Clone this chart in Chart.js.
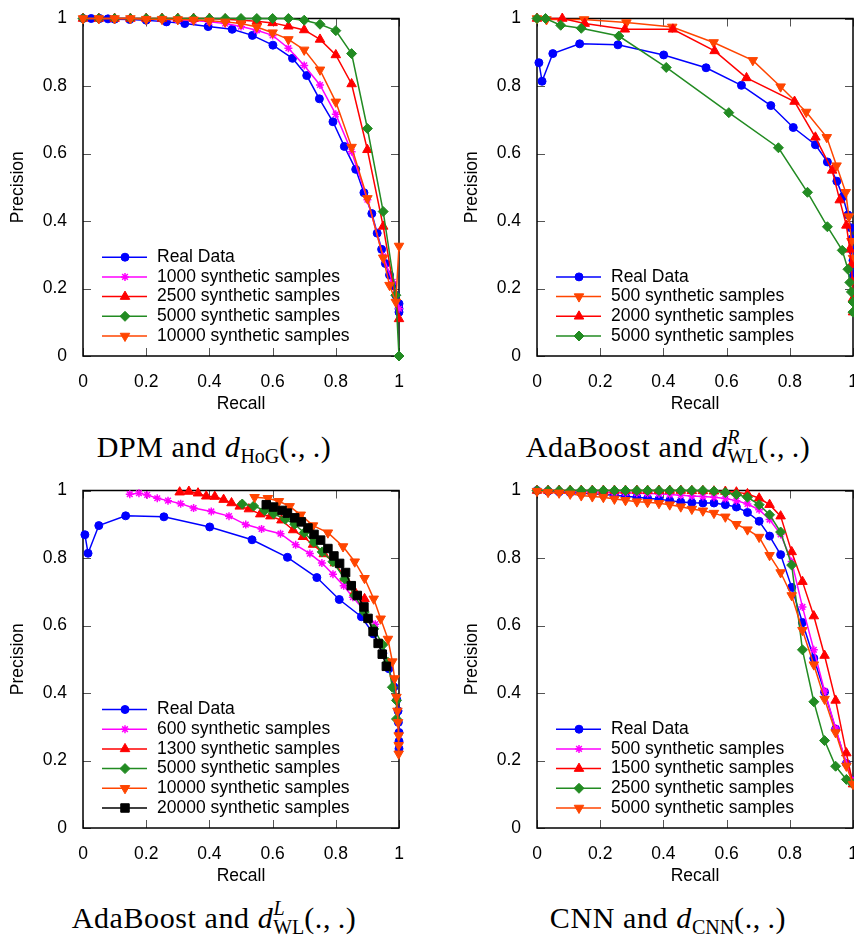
<!DOCTYPE html>
<html>
<head>
<meta charset="utf-8">
<script src="https://cdn.jsdelivr.net/npm/chart.js@4.4.0/dist/chart.umd.min.js"></script>
<style>
  body { margin: 0; width: 854px; height: 940px; overflow: hidden; background: #fff; position: relative; }
  canvas { position: absolute; display: block; }
  .cap { position: absolute; width: 428px; text-align: center; font-family: "Liberation Serif", serif;
         font-size: 30px; line-height: 34px; letter-spacing: 0.6px; white-space: nowrap; color: #000; }
  .sb { font-size: 20px; position: relative; top: 6px; letter-spacing: 0; }
  .sp { font-size: 20px; position: relative; top: -13px; }
</style>
</head>
<body>
<canvas id="dpm" width="420" height="420" style="left:0;top:0"></canvas>
<canvas id="adaR" width="420" height="420" style="left:454px;top:0"></canvas>
<canvas id="adaL" width="420" height="420" style="left:0;top:472px"></canvas>
<canvas id="cnn" width="420" height="420" style="left:454px;top:472px"></canvas>

<div class="cap" style="left:0;top:430px">DPM and <i>d</i><span class="sb">HoG</span>(.,&thinsp;.)</div>
<div class="cap" style="left:454px;top:430px">AdaBoost and <i>d</i><span class="sp"><i>R</i></span><span class="sb" style="margin-left:-13px">WL</span>(.,&thinsp;.)</div>
<div class="cap" style="left:0;top:901px">AdaBoost and <i>d</i><span class="sp"><i>L</i></span><span class="sb" style="margin-left:-12px">WL</span>(.,&thinsp;.)</div>
<div class="cap" style="left:454px;top:901px">CNN and <i>d</i><span class="sb">CNN</span>(.,&thinsp;.)</div>

<script>
// ---- data: [recall, precision] pairs ----
// DPM + d_HoG
const dpmReal = [[0,1],[0.026,1],[0.053,1],[0.079,0.999],[0.1,0.998],[0.148,0.997],[0.2,0.995],[0.264,0.99],[0.322,0.985],[0.396,0.976],[0.472,0.968],[0.536,0.95],[0.601,0.921],[0.663,0.882],[0.708,0.831],[0.748,0.762],[0.791,0.694],[0.827,0.621],[0.863,0.553],[0.889,0.484],[0.914,0.422],[0.931,0.364],[0.945,0.316],[0.957,0.274],[0.97,0.24],[0.98,0.21],[0.99,0.18],[1,0.155],[1,0.14],[1,0.13]];
const dpm1000 = [[0,1],[0.05,1],[0.1,1],[0.15,1],[0.2,0.999],[0.25,0.998],[0.3,0.996],[0.35,0.994],[0.4,0.99],[0.45,0.985],[0.5,0.976],[0.55,0.965],[0.6,0.95],[0.65,0.912],[0.7,0.861],[0.75,0.803],[0.8,0.716],[0.85,0.605],[0.9,0.463],[0.95,0.295],[0.98,0.22],[1,0.14]];
const dpm2500 = [[0,1],[0.05,1],[0.1,1],[0.15,1],[0.2,1],[0.25,1],[0.3,1],[0.35,1],[0.4,1],[0.45,0.998],[0.5,0.995],[0.55,0.992],[0.6,0.987],[0.65,0.977],[0.7,0.966],[0.75,0.938],[0.8,0.892],[0.85,0.806],[0.9,0.611],[0.95,0.384],[1,0.11]];
const dpm5000 = [[0,1],[0.05,1],[0.1,1],[0.15,1],[0.2,1],[0.25,1],[0.3,1],[0.35,1],[0.4,1],[0.45,1],[0.5,1],[0.55,1],[0.6,1],[0.65,1],[0.7,0.995],[0.75,0.983],[0.8,0.964],[0.85,0.896],[0.9,0.674],[0.95,0.428],[0.99,0.18],[1,0]];
const dpm10000 = [[0,1],[0.05,1],[0.1,1],[0.15,1],[0.2,0.998],[0.25,0.998],[0.3,0.997],[0.35,0.996],[0.4,0.993],[0.45,0.99],[0.5,0.985],[0.55,0.975],[0.6,0.958],[0.65,0.938],[0.7,0.907],[0.75,0.848],[0.8,0.753],[0.85,0.619],[0.9,0.467],[0.95,0.291],[0.97,0.21],[0.99,0.16],[1,0.326]];

// AdaBoost, real data (same detector in both AdaBoost panels)
const adaReal = [[0.006,0.869],[0.016,0.814],[0.05,0.896],[0.135,0.925],[0.256,0.922],[0.401,0.892],[0.535,0.854],[0.647,0.802],[0.74,0.742],[0.811,0.677],[0.881,0.626],[0.919,0.575],[0.949,0.518],[0.968,0.472],[0.984,0.418],[0.993,0.38],[0.997,0.347],[0.998,0.313],[1,0.283],[1,0.257],[1,0.235]];
// AdaBoost + d^R_WL
const adaR500 = [[0,1],[0.03,0.997],[0.149,0.997],[0.283,0.988],[0.428,0.975],[0.559,0.929],[0.683,0.876],[0.771,0.798],[0.852,0.723],[0.917,0.648],[0.948,0.564],[0.977,0.485],[0.987,0.413],[0.995,0.34],[1,0.29]];
const adaR2000 = [[0,1],[0.08,1],[0.151,0.985],[0.278,0.968],[0.43,0.968],[0.562,0.904],[0.663,0.824],[0.815,0.754],[0.881,0.648],[0.934,0.55],[0.958,0.462],[0.979,0.387],[0.99,0.316],[0.995,0.27],[0.998,0.22],[1,0.17],[1,0.13]];
const adaR5000 = [[0,1],[0.027,1],[0.075,0.98],[0.14,0.971],[0.259,0.948],[0.409,0.855],[0.607,0.721],[0.764,0.617],[0.856,0.485],[0.919,0.383],[0.966,0.313],[0.984,0.257],[0.99,0.218],[0.995,0.19],[1,0.16],[1,0.13]];
// AdaBoost + d^L_WL
const adaL600 = [[0.148,0.989],[0.177,0.992],[0.203,0.987],[0.235,0.977],[0.269,0.97],[0.309,0.961],[0.35,0.948],[0.406,0.938],[0.462,0.924],[0.515,0.899],[0.565,0.886],[0.625,0.872],[0.673,0.839],[0.718,0.813],[0.756,0.785],[0.791,0.752],[0.825,0.718],[0.854,0.684],[0.89,0.645],[0.925,0.604]];
const adaL1300 = [[0.306,0.995],[0.335,0.997],[0.364,0.992],[0.39,0.983],[0.417,0.982],[0.445,0.973],[0.47,0.963],[0.496,0.953],[0.525,0.945],[0.561,0.93],[0.593,0.924],[0.628,0.912],[0.665,0.883],[0.696,0.863],[0.728,0.84],[0.762,0.812],[0.797,0.785],[0.83,0.74],[0.86,0.7],[0.891,0.679]];
const adaL5000 = [[0.504,0.96],[0.54,0.954],[0.575,0.941],[0.603,0.931],[0.64,0.915],[0.67,0.9],[0.7,0.875],[0.73,0.847],[0.757,0.818],[0.791,0.789],[0.828,0.738],[0.86,0.689],[0.89,0.64],[0.92,0.59],[0.949,0.543],[0.965,0.491],[0.979,0.417],[0.992,0.378],[0.992,0.323]];
const adaL10000 = [[0.543,0.98],[0.585,0.977],[0.62,0.968],[0.654,0.953],[0.689,0.928],[0.728,0.896],[0.775,0.875],[0.823,0.834],[0.86,0.789],[0.891,0.74],[0.92,0.679],[0.942,0.62],[0.965,0.56],[0.979,0.493],[0.986,0.443],[0.992,0.388],[0.995,0.347],[0.997,0.313],[0.999,0.274],[0.999,0.245],[0.999,0.22]];
const adaL20000 = [[0.58,0.958],[0.603,0.951],[0.63,0.941],[0.647,0.933],[0.67,0.919],[0.691,0.907],[0.712,0.889],[0.731,0.87],[0.752,0.853],[0.775,0.828],[0.794,0.806],[0.812,0.784],[0.831,0.757],[0.849,0.718],[0.868,0.689],[0.889,0.655],[0.902,0.621],[0.918,0.582],[0.934,0.547],[0.947,0.515],[0.96,0.479]];

// CNN + d_CNN: all curves share the recall samples
const cnnRecall = [0,0.035,0.07,0.105,0.14,0.175,0.21,0.245,0.28,0.316,0.35,0.386,0.42,0.455,0.49,0.525,0.56,0.596,0.631,0.666,0.703,0.736,0.771,0.806,0.84,0.876,0.91,0.945,0.979,1];
const cnnReal = [1,0.998,0.996,0.994,0.992,0.99,0.988,0.986,0.983,0.98,0.977,0.974,0.97,0.966,0.964,0.963,0.963,0.958,0.951,0.935,0.909,0.865,0.81,0.713,0.609,0.503,0.403,0.293,0.191,0.14];
const cnn500 = [1,1,0.999,0.998,0.997,0.996,0.995,0.994,0.993,0.992,0.991,0.99,0.988,0.986,0.984,0.982,0.98,0.976,0.97,0.96,0.943,0.914,0.87,0.79,0.655,0.528,0.406,0.296,0.191,0.14];
const cnn1500 = [1,1,1,1,1,1,1,1,1,1,1,1,1,1,0.999,0.999,0.998,0.997,0.995,0.99,0.977,0.958,0.924,0.818,0.73,0.628,0.511,0.378,0.222,0.13];
const cnn2500 = [1,1,1,1,1,1,1,1,1,1,1,1,1,1,1,1,0.998,0.994,0.988,0.98,0.958,0.928,0.877,0.779,0.528,0.374,0.259,0.183,0.144,0.13];
const cnn5000 = [0.998,0.995,0.993,0.99,0.985,0.982,0.98,0.975,0.971,0.967,0.965,0.962,0.958,0.952,0.945,0.94,0.933,0.922,0.9,0.884,0.862,0.808,0.757,0.689,0.586,0.484,0.382,0.283,0.184,0.13];

const axisTicks = [0, 0.2, 0.4, 0.6, 0.8, 1];

// ---- styles (gnuplot-like markers) ----
const styles = {
  blue:    { color: '#0000ff', shape: 'circle',   rot: 0,   r: 4 },
  magenta: { color: '#ff00ff', shape: 'star',     rot: 0,   r: 4 },
  red:     { color: '#ff0000', shape: 'triangle', rot: 0,   r: 5.5 },
  green:   { color: '#228b22', shape: 'rectRot',  rot: 0,   r: 5 },
  orange:  { color: '#ff4500', shape: 'triangle', rot: 180, r: 5.5 },
  black:   { color: '#000000', shape: 'rect',     rot: 0,   r: 6 }
};

const FONT = '"Liberation Sans", Arial, sans-serif';
Chart.defaults.font.family = FONT;
Chart.defaults.font.size = 17.5;
Chart.defaults.color = '#000';

// box border + inward ticks on all four sides
const boxTicks = {
  id: 'boxTicks',
  beforeDatasetsDraw(chart) {
    const { ctx, chartArea: a, scales: { x, y } } = chart;
    ctx.save();
    ctx.strokeStyle = '#555';
    ctx.lineWidth = 1;
    ctx.beginPath();
    x.ticks.forEach(t => {
      const px = Math.round(x.getPixelForValue(t.value)) + 0.5;
      ctx.moveTo(px, a.bottom); ctx.lineTo(px, a.bottom - 8);
      ctx.moveTo(px, a.top); ctx.lineTo(px, a.top + 8);
    });
    y.ticks.forEach(t => {
      const py = Math.round(y.getPixelForValue(t.value)) + 0.5;
      ctx.moveTo(a.left, py); ctx.lineTo(a.left + 8, py);
      ctx.moveTo(a.right, py); ctx.lineTo(a.right - 8, py);
    });
    ctx.stroke();
    ctx.strokeStyle = '#000';
    ctx.lineWidth = 1.5;
    ctx.strokeRect(a.left, a.top, a.right - a.left, a.bottom - a.top);
    ctx.restore();
  }
};

// key drawn inside the plot, bottom left, line + marker sample
const insideKey = {
  id: 'insideKey',
  afterDatasetsDraw(chart) {
    const { ctx, chartArea: a } = chart;
    const sets = chart.data.datasets;
    ctx.save();
    ctx.font = '17.5px ' + FONT;
    ctx.textBaseline = 'middle';
    sets.forEach((ds, i) => {
      const yy = a.bottom - 20 - (sets.length - 1 - i) * 19.7;
      ctx.strokeStyle = ds.borderColor;
      ctx.lineWidth = ds.borderWidth;
      ctx.beginPath();
      ctx.moveTo(a.left + 19, yy); ctx.lineTo(a.left + 64, yy);
      ctx.stroke();
      ctx.fillStyle = ds.pointBackgroundColor;
      ctx.strokeStyle = ds.pointBorderColor;
      ctx.lineWidth = ds.pointBorderWidth;
      Chart.helpers.drawPoint(ctx, {
        pointStyle: ds.pointStyle, rotation: ds.pointRotation,
        radius: ds.pointRadius, borderWidth: ds.pointBorderWidth
      }, a.left + 42, yy);
      ctx.fillStyle = '#000';
      ctx.fillText(ds.label, a.left + 74, yy);
    });
    ctx.restore();
  }
};

function series(label, pts, key, n, i) {
  const s = styles[key];
  return {
    label,
    data: pts.map(p => ({ x: p[0], y: p[1] })),
    showLine: true,
    borderColor: s.color,
    backgroundColor: s.color,
    pointBackgroundColor: s.color,
    pointBorderColor: s.color,
    pointStyle: s.shape,
    pointRotation: s.rot,
    pointRadius: s.r,
    pointHoverRadius: s.r,
    pointBorderWidth: s.shape === 'star' ? 1.5 : 1,
    borderWidth: 1.5,
    tension: 0,
    clip: false,
    order: n - i
  };
}

const tickText = v => String(Math.round(v * 10) / 10);

function makeChart(id, list) {
  const datasets = list.map((d, i) => series(d[0], d[1], d[2], list.length, i));
  return new Chart(document.getElementById(id), {
    type: 'scatter',
    data: { datasets },
    options: {
      responsive: false,
      animation: false,
      devicePixelRatio: 1,
      events: [],
      layout: { padding: { left: 0, right: 21, top: 15, bottom: 0 } },
      plugins: { legend: { display: false }, tooltip: { enabled: false } },
      scales: {
        x: {
          type: 'linear', min: 0, max: 1,
          afterBuildTicks: sc => { sc.ticks = axisTicks.map(v => ({ value: v })); },
          ticks: { padding: 8, maxRotation: 0, autoSkip: false, callback: tickText },
          grid: { display: false }, border: { display: false },
          title: { display: true, text: 'Recall', padding: { top: 0, bottom: 5 } },
          afterFit: sc => { sc.height = 64; }
        },
        y: {
          type: 'linear', min: 0, max: 1,
          afterBuildTicks: sc => { sc.ticks = axisTicks.map(v => ({ value: v })); },
          ticks: { padding: 8, autoSkip: false, callback: tickText },
          grid: { display: false }, border: { display: false },
          title: { display: true, text: 'Precision', padding: { top: 8, bottom: 0 } },
          afterFit: sc => { sc.width = 83; }
        }
      }
    },
    plugins: [boxTicks, insideKey]
  });
}

makeChart('dpm', [
  ['Real Data', dpmReal, 'blue'],
  ['1000 synthetic samples', dpm1000, 'magenta'],
  ['2500 synthetic samples', dpm2500, 'red'],
  ['5000 synthetic samples', dpm5000, 'green'],
  ['10000 synthetic samples', dpm10000, 'orange']
]);

makeChart('adaR', [
  ['Real Data', adaReal, 'blue'],
  ['500 synthetic samples', adaR500, 'orange'],
  ['2000 synthetic samples', adaR2000, 'red'],
  ['5000 synthetic samples', adaR5000, 'green']
]);

makeChart('adaL', [
  ['Real Data', adaReal, 'blue'],
  ['600 synthetic samples', adaL600, 'magenta'],
  ['1300 synthetic samples', adaL1300, 'red'],
  ['5000 synthetic samples', adaL5000, 'green'],
  ['10000 synthetic samples', adaL10000, 'orange'],
  ['20000 synthetic samples', adaL20000, 'black']
]);

const zipCnn = vals => cnnRecall.map((r, i) => [r, vals[i]]);
makeChart('cnn', [
  ['Real Data', zipCnn(cnnReal), 'blue'],
  ['500 synthetic samples', zipCnn(cnn500), 'magenta'],
  ['1500 synthetic samples', zipCnn(cnn1500), 'red'],
  ['2500 synthetic samples', zipCnn(cnn2500), 'green'],
  ['5000 synthetic samples', zipCnn(cnn5000), 'orange']
]);
</script>
</body>
</html>
